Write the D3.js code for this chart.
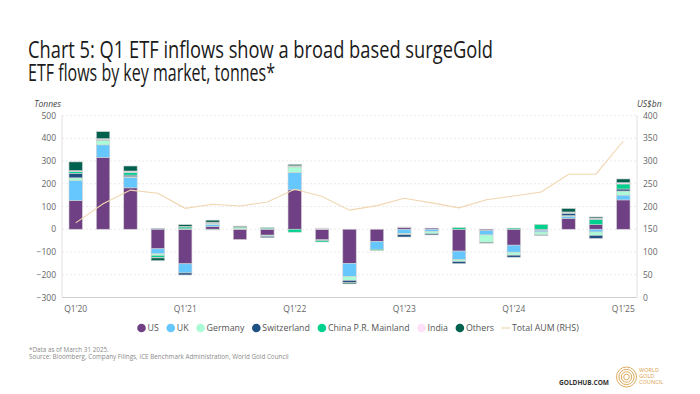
<!DOCTYPE html>
<html>
<head>
<meta charset="utf-8">
<script src="https://cdn.jsdelivr.net/npm/d3@7"></script>
<style>
  body { margin: 0; background: #fff; }
  svg { display: block; font-family: "Open Sans", sans-serif; }
</style>
</head>
<body>
<svg id="chart" width="700" height="394"></svg>
<script>
// quarterly ETF flows, tonnes
var quarters = ["Q1'20","Q2'20","Q3'20","Q4'20","Q1'21","Q2'21","Q3'21","Q4'21","Q1'22","Q2'22","Q3'22",
  "Q4'22","Q1'23","Q2'23","Q3'23","Q4'23","Q1'24","Q2'24","Q3'24","Q4'24","Q1'25"];
var us          = [126, 316, 182, -86, -152, 12, -45, -26, 173, -46, -150, -54, 8, 5, -96, -6, -70, -5, 48, 20, 129];
var uk          = [88, 55, 46, -22, -40, 8, 0, 3, 76, 0, -58, -34, -18, -9, -38, -19, -31, -7, 8, -12, 21];
var germany     = [12, 20, 3, -7, 2, 6, 6, -5, 25, 1, -17, 0, -6, -11, -8, -32, -13, -13, 4, -15, 18];
var switzerland = [20, 1, 7, 3, -9, 1, 0, -6, 3, -4, -10, 0, -10, -5, -9, 0, -9, -2, 10, -13, 9];
var china       = [7, 2, 12, -9, 8, -3, 4, 4, -13, -6, 0, -5, 0, 0, 7, 0, 5, 21, 2, 24, 22];
var india       = [5, 4, 6, -2, 3, 4, 2, 0, 2, 4, 0, 0, 2, 0, 0, 0, 0, 0, 4, 5, 6];
var others      = [38, 31, 22, -12, 7, 9, 2, 0, 6, 0, -5, 0, 0, 0, 0, -4, 0, 0, 15, 5, 16];
// total AUM, US$bn (right axis)
var aum = [164, 206, 236, 229, 196, 205, 201, 210, 238, 222, 192, 202, 218, 208, 197, 215, 223, 232, 271, 271, 344];

var seriesNames = ["US", "UK", "Germany", "Switzerland", "China P.R. Mainland", "India", "Others"];
var seriesData = [us, uk, germany, switzerland, china, india, others];
var colors = ["#704084", "#66c7ff", "#abfcd6", "#1f5183", "#00d18e", "#fde0f8", "#00614f"];
var lineColor = "#f1d6b0";

var leftTicks = [-300, -200, -100, 0, 100, 200, 300, 400, 500];
var rightTicks = [0, 50, 100, 150, 200, 250, 300, 350, 400];
var xLabels = ["Q1'20", "Q1'21", "Q1'22", "Q1'23", "Q1'24", "Q1'25"];

var svg = d3.select("#chart");
var plotL = 62, plotR = 637, plotT = 115.5, plotB = 297.5;

// table for stack
var rows = quarters.map(function(q, i) {
  var r = { q: q };
  seriesNames.forEach(function(n, j) { r[n] = seriesData[j][i]; });
  return r;
});
var stacked = d3.stack().keys(seriesNames).offset(d3.stackOffsetDiverging)(rows);

var x = d3.scaleBand().domain(quarters).range([plotL, plotR]).paddingInner(0.51).paddingOuter(0.255);
var y = d3.scaleLinear().domain([-300, 500]).range([plotB, plotT]);
var y2 = d3.scaleLinear().domain([0, 400]).range([plotB, plotT]);

// title
var title = svg.append("g").attr("fill", "#1a1a1a").style("font-size", "24.5px");
title.append("text").attr("x", 28).attr("y", 57.5)
  .attr("textLength", 465).attr("lengthAdjust", "spacingAndGlyphs")
  .text("Chart 5: Q1 ETF inflows show a broad based surgeGold");
title.append("text").attr("x", 28).attr("y", 81)
  .attr("textLength", 247).attr("lengthAdjust", "spacingAndGlyphs")
  .text("ETF flows by key market, tonnes*");

// gridlines
svg.append("g").selectAll("line").data(leftTicks.filter(function(d) { return d > -300; }))
  .enter().append("line")
  .attr("x1", plotL).attr("x2", plotR)
  .attr("y1", function(d) { return y(d); }).attr("y2", function(d) { return y(d); })
  .attr("stroke", "#e6e6e6").attr("stroke-dasharray", "2,2").attr("stroke-width", 0.8);

// axis frames
svg.append("line").attr("x1", plotL).attr("x2", plotR).attr("y1", plotB).attr("y2", plotB)
  .attr("stroke", "#cfcfcf").attr("stroke-width", 1);
svg.append("line").attr("x1", plotL).attr("x2", plotL).attr("y1", plotT).attr("y2", plotB)
  .attr("stroke", "#e0e0e0").attr("stroke-width", 1);
svg.append("line").attr("x1", plotR).attr("x2", plotR).attr("y1", plotT).attr("y2", plotB)
  .attr("stroke", "#e0e0e0").attr("stroke-width", 1);

// axes
var yAxisL = svg.append("g").attr("transform", "translate(" + (plotL - 6) + ",0)")
  .call(d3.axisLeft(y).tickValues(leftTicks).tickSize(0).tickPadding(0));
var yAxisR = svg.append("g").attr("transform", "translate(" + (plotR + 6) + ",0)")
  .call(d3.axisRight(y2).tickValues(rightTicks).tickSize(0).tickPadding(0));
var xAxis = svg.append("g").attr("transform", "translate(0," + (plotB + 5) + ")")
  .call(d3.axisBottom(x).tickValues(xLabels).tickSize(0).tickPadding(3));
[yAxisL, yAxisR, xAxis].forEach(function(a) {
  a.select(".domain").remove();
  a.selectAll("text").attr("fill", "#666").style("font-size", "8.5px").style("font-family", "Open Sans");
});

svg.append("text").attr("x", 61).attr("y", 107).attr("text-anchor", "end")
  .attr("fill", "#444").style("font-size", "8.5px").style("font-style", "italic").text("Tonnes");
svg.append("text").attr("x", 637).attr("y", 107)
  .attr("fill", "#444").style("font-size", "8.5px").style("font-style", "italic").text("US$bn");

// bars
svg.append("g").selectAll("g").data(stacked).enter().append("g")
  .attr("fill", function(d, i) { return colors[i]; })
  .selectAll("rect").data(function(d) { return d; }).enter().append("rect")
  .attr("x", function(d) { return x(d.data.q); })
  .attr("width", x.bandwidth())
  .attr("y", function(d) { return y(Math.max(d[0], d[1])); })
  .attr("height", function(d) { return Math.abs(y(d[0]) - y(d[1])); })
  .attr("stroke", "#d0d0d0").attr("stroke-width", 0.6);

// AUM line
var line = d3.line()
  .x(function(d, i) { return x(quarters[i]) + x.bandwidth() / 2; })
  .y(function(d) { return y2(d); });
svg.append("path").datum(aum).attr("d", line)
  .attr("fill", "none").attr("stroke", lineColor).attr("stroke-width", 1.1);

// legend
var legend = svg.append("g").attr("transform", "translate(137,328)");
var lx = 0;
seriesNames.concat(["Total AUM (RHS)"]).forEach(function(n, i) {
  var g = legend.append("g").attr("transform", "translate(" + lx + ",0)");
  if (i < seriesNames.length) {
    g.append("circle").attr("cx", 4.5).attr("cy", 0).attr("r", 4.3).attr("fill", colors[i]);
  } else {
    g.append("line").attr("x1", 0).attr("x2", 9).attr("y1", 0).attr("y2", 0)
      .attr("stroke", lineColor).attr("stroke-width", 1.2);
  }
  var t = g.append("text").attr("x", 10.5).attr("y", 3.2).attr("fill", "#555")
    .style("font-size", "8.8px").text(n);
  lx += 10.5 + t.node().getComputedTextLength() + 7.5;
});

// footnotes
var foot = svg.append("g").attr("fill", "#8a8a8a").style("font-size", "6.3px");
foot.append("text").attr("x", 29).attr("y", 352).text("*Data as of March 31 2025.");
foot.append("text").attr("x", 29).attr("y", 358.5)
  .text("Source: Bloomberg, Company Filings, ICE Benchmark Administration, World Gold Council");

// goldhub + logo
svg.append("text").attr("x", 559).attr("y", 385).attr("fill", "#333")
  .style("font-size", "6.3px").style("font-weight", "bold")
  .attr("textLength", 50).attr("lengthAdjust", "spacingAndGlyphs").text("GOLDHUB.COM");
var gold = "#d9a24e";
var logo = svg.append("g").attr("transform", "translate(626.5,377)");
[10, 7.6, 5.2, 2.8].forEach(function(r) {
  logo.append("circle").attr("r", r).attr("fill", "none").attr("stroke", gold).attr("stroke-width", 0.9);
});
var lt = svg.append("g").attr("fill", gold).style("font-size", "5.6px");
lt.append("text").attr("x", 639).attr("y", 372).text("WORLD");
lt.append("text").attr("x", 639).attr("y", 378.2).text("GOLD");
lt.append("text").attr("x", 639).attr("y", 384.4).text("COUNCIL");
</script>
</body>
</html>
